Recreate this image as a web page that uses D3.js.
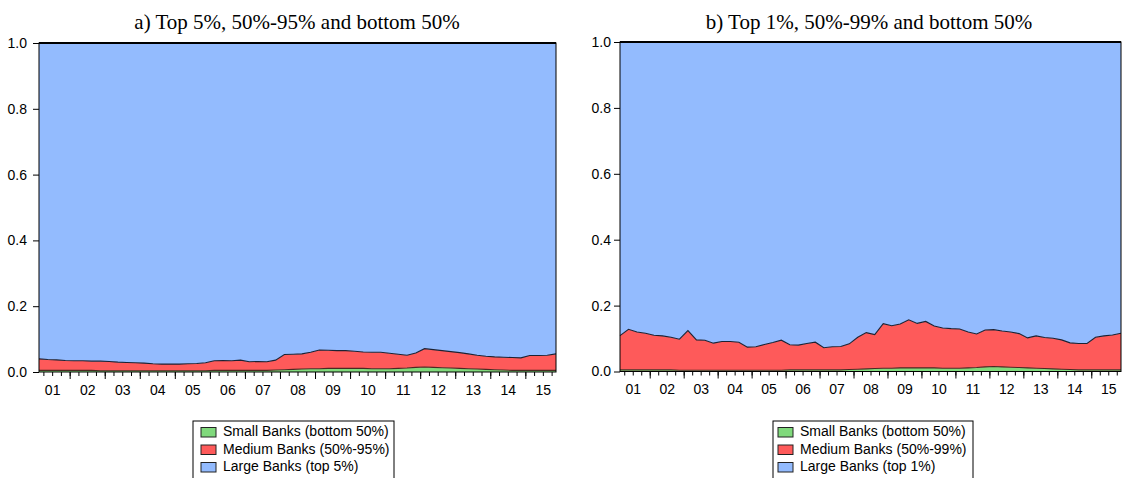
<!DOCTYPE html>
<html>
<head>
<meta charset="utf-8">
<script src="https://cdn.jsdelivr.net/npm/d3@7"></script>
<style>
  body { margin: 0; background: #fff; }
  svg { display: block; font-family: "Liberation Sans", Arial, sans-serif; }
</style>
</head>
<body>
<svg id="chart" width="1123" height="478"></svg>
<script>
// quarterly shares, 2001Q1 - 2015Q4
var yearLabels = ["01","02","03","04","05","06","07","08","09","10","11","12","13","14","15"];
var quarters = yearLabels.flatMap(yr => ["Q1","Q2","Q3","Q4"].map(q => yr + q));

var yTicks = [0, 0.2, 0.4, 0.6, 0.8, 1.0];

// bottom 50% is the same group in both panels
var smallShare = [
  0.005,0.005,0.005,0.005,0.005,0.005,0.005,0.004,0.004,0.004,
  0.004,0.004,0.004,0.004,0.004,0.004,0.004,0.004,0.004,0.004,
  0.005,0.005,0.005,0.005,0.005,0.005,0.005,0.006,0.007,0.008,
  0.009,0.010,0.010,0.011,0.011,0.011,0.011,0.011,0.010,0.010,
  0.010,0.011,0.012,0.014,0.015,0.014,0.013,0.012,0.011,0.010,
  0.009,0.008,0.007,0.006,0.005,0.005,0.005,0.005,0.005,0.005
];

// a) 50%-95% and top 5%
var mediumA = [
  0.035,0.033,0.032,0.030,0.029,0.029,0.028,0.029,0.028,0.026,
  0.025,0.024,0.023,0.021,0.020,0.020,0.020,0.021,0.022,0.024,
  0.029,0.030,0.029,0.031,0.026,0.027,0.026,0.030,0.046,0.046,
  0.046,0.050,0.057,0.055,0.054,0.054,0.052,0.050,0.050,0.050,
  0.047,0.043,0.039,0.044,0.056,0.054,0.052,0.050,0.048,0.045,
  0.042,0.040,0.039,0.039,0.039,0.038,0.045,0.045,0.046,0.050
];
var largeA = [
  0.960,0.962,0.963,0.965,0.966,0.966,0.967,0.967,0.968,0.970,
  0.971,0.972,0.973,0.975,0.976,0.976,0.976,0.975,0.974,0.972,
  0.966,0.965,0.966,0.964,0.969,0.968,0.969,0.964,0.947,0.946,
  0.945,0.940,0.933,0.934,0.935,0.935,0.937,0.939,0.940,0.940,
  0.943,0.946,0.949,0.942,0.929,0.932,0.935,0.938,0.941,0.945,
  0.949,0.952,0.954,0.955,0.956,0.957,0.950,0.950,0.949,0.945
];

// b) 50%-99% and top 1%
var mediumB = [
  0.104,0.123,0.115,0.111,0.105,0.103,0.099,0.094,0.120,0.092,
  0.091,0.082,0.087,0.087,0.085,0.070,0.071,0.078,0.084,0.091,
  0.076,0.075,0.080,0.084,0.067,0.070,0.071,0.078,0.097,0.110,
  0.103,0.135,0.129,0.133,0.146,0.135,0.141,0.127,0.122,0.120,
  0.119,0.109,0.102,0.112,0.112,0.109,0.107,0.103,0.091,0.098,
  0.094,0.093,0.089,0.081,0.080,0.080,0.099,0.103,0.106,0.111
];
var largeB = [
  0.891,0.872,0.880,0.884,0.890,0.892,0.896,0.902,0.876,0.904,
  0.905,0.914,0.909,0.909,0.911,0.926,0.925,0.918,0.912,0.905,
  0.919,0.920,0.915,0.911,0.928,0.925,0.924,0.916,0.896,0.882,
  0.888,0.855,0.861,0.856,0.843,0.854,0.848,0.862,0.868,0.870,
  0.871,0.880,0.886,0.874,0.873,0.877,0.880,0.885,0.898,0.892,
  0.897,0.899,0.904,0.913,0.915,0.915,0.896,0.892,0.889,0.884
];

var keys = ["small", "medium", "large"];
var colors = { small: "#80d97c", medium: "#fe5a5a", large: "#93bbfe" };
var edgeColors = { small: "#4a2a22", medium: "#1c2233" };

var svg = d3.select("#chart");

function drawPanel(opt) {
  var g = svg.append("g");

  var rows = quarters.map((q, i) => ({ q: q, small: smallShare[i], medium: opt.medium[i], large: opt.large[i] }));
  var series = d3.stack().keys(keys)(rows);

  var x = d3.scaleLinear().domain([0, quarters.length - 1]).range([opt.left, opt.right]);
  var y = d3.scaleLinear().domain([0, 1]).range([opt.bottom, opt.top]);

  var area = d3.area()
    .x((d, i) => x(i))
    .y0(d => y(d[0]))
    .y1(d => y(d[1]));

  g.selectAll(".layer")
    .data(series)
    .join("path")
    .attr("class", "layer")
    .attr("d", area)
    .attr("fill", d => colors[d.key]);

  var edge = d3.line().x((d, i) => x(i)).y(d => y(d[1]));
  g.selectAll(".edge")
    .data(series.slice(0, 2))
    .join("path")
    .attr("class", "edge")
    .attr("d", edge)
    .attr("fill", "none")
    .attr("stroke", d => edgeColors[d.key])
    .attr("stroke-width", 1.1);

  // frame
  g.append("rect")
    .attr("x", opt.left).attr("y", y(1))
    .attr("width", opt.right - opt.left).attr("height", y(0) - y(1))
    .attr("fill", "none").attr("stroke", "#000").attr("stroke-width", 1);
  g.append("line")
    .attr("x1", opt.left).attr("x2", opt.right)
    .attr("y1", y(1)).attr("y2", y(1))
    .attr("stroke", "#000").attr("stroke-width", 2);

  // quarter ticks sit between observations, year ticks between Q4 and Q1
  var minorTicks = d3.range(quarters.length - 1).map(i => i + 0.5);
  var majorTicks = minorTicks.filter(v => (v - 3.5) % 4 === 0);
  var labelPos = yearLabels.map((yr, k) => k * 4 + 1.5);

  g.append("g")
    .attr("transform", `translate(0,${opt.bottom})`)
    .call(d3.axisBottom(x).tickValues(minorTicks).tickSize(4).tickSizeOuter(0).tickFormat(""))
    .call(a => a.select(".domain").remove());
  g.append("g")
    .attr("transform", `translate(0,${opt.bottom})`)
    .call(d3.axisBottom(x).tickValues(majorTicks).tickSize(7).tickSizeOuter(0).tickFormat(""))
    .call(a => a.select(".domain").remove());
  g.append("g")
    .attr("transform", `translate(0,${opt.bottom})`)
    .call(d3.axisBottom(x).tickValues(labelPos).tickSize(0).tickPadding(13)
      .tickFormat((d, i) => yearLabels[i]))
    .call(a => a.select(".domain").remove())
    .attr("font-family", "Liberation Sans, Arial, sans-serif")
    .attr("font-size", 14);

  g.append("g")
    .attr("transform", `translate(${opt.left},0)`)
    .call(d3.axisLeft(y).tickValues(yTicks).tickSize(6).tickPadding(opt.pad).tickFormat(d3.format(".1f")))
    .call(a => a.select(".domain").remove())
    .attr("font-family", "Liberation Sans, Arial, sans-serif")
    .attr("font-size", 14);

  // title
  svg.append("text")
    .attr("x", opt.titleX).attr("y", 29)
    .attr("text-anchor", "middle")
    .attr("font-family", "Liberation Serif, Times New Roman, serif")
    .attr("font-size", 21)
    .text(opt.title);

  // legend
  var lg = svg.append("g").attr("transform", `translate(${opt.legX},421)`);
  lg.append("rect")
    .attr("x", 0).attr("y", 0).attr("width", opt.legW).attr("height", 62)
    .attr("fill", "#fff").attr("stroke", "#000").attr("stroke-width", 1);
  var item = lg.selectAll(".item")
    .data(keys)
    .join("g")
    .attr("class", "item")
    .attr("transform", (d, i) => `translate(0,${i * 17.5})`);
  item.append("rect")
    .attr("x", opt.swX).attr("y", 6.5).attr("width", 15).attr("height", 9.5)
    .attr("fill", d => colors[d]).attr("stroke", "#222").attr("stroke-width", 1);
  item.append("text")
    .attr("x", opt.swX + 22).attr("y", 15)
    .attr("font-size", 14)
    .text((d, i) => opt.legend[i]);
}

drawPanel({
  left: 39, right: 556, top: 43, bottom: 372, pad: 6,
  medium: mediumA, large: largeA,
  title: "a) Top 5%, 50%-95% and bottom 50%", titleX: 297,
  legX: 193, legW: 201, swX: 8,
  legend: ["Small Banks (bottom 50%)", "Medium Banks (50%-95%)", "Large Banks (top 5%)"]
});

drawPanel({
  left: 620, right: 1121, top: 42, bottom: 371.5, pad: 3,
  medium: mediumB, large: largeB,
  title: "b) Top 1%, 50%-99% and bottom 50%", titleX: 869,
  legX: 773, legW: 200, swX: 5,
  legend: ["Small Banks (bottom 50%)", "Medium Banks (50%-99%)", "Large Banks (top 1%)"]
});
</script>
</body>
</html>
